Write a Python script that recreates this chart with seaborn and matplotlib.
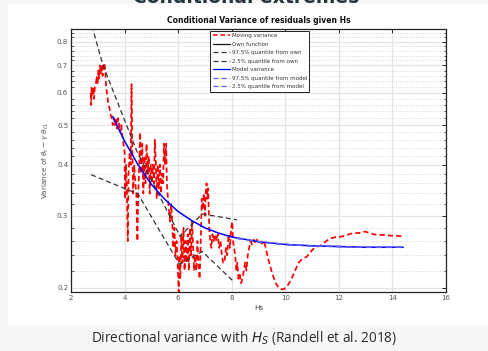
import matplotlib
matplotlib.use("Agg")
import matplotlib.pyplot as plt
import seaborn as sns
import numpy as np
import pandas as pd
from matplotlib.lines import Line2D
from matplotlib.patches import Rectangle
from matplotlib.ticker import FixedLocator, NullFormatter

# ---------------- data ----------------
red_hs = [2.74, 2.75, 2.77, 2.80, 2.83, 2.86, 2.89, 2.93, 2.96, 2.99, 3.02, 3.05, 3.08, 3.11, 3.14,
          3.18, 3.21, 3.25, 3.28, 3.31, 3.34, 3.37, 3.40, 3.44, 3.48, 3.52, 3.56, 3.60, 3.64, 3.68,
          3.72, 3.76, 3.80, 3.84, 3.88, 3.92, 3.96, 4.00, 4.02, 4.05, 4.08, 4.12, 4.15, 4.19, 4.23,
          4.26, 4.29, 4.32, 4.36, 4.40, 4.44, 4.48, 4.51, 4.55, 4.58, 4.62, 4.66, 4.70, 4.74, 4.78,
          4.82, 4.86, 4.90, 4.94, 4.98, 5.02, 5.06, 5.10, 5.13, 5.17, 5.20, 5.24, 5.28, 5.32, 5.36,
          5.40, 5.44, 5.47, 5.51, 5.55, 5.58, 5.62, 5.66, 5.70, 5.74, 5.78, 5.82, 5.86, 5.90, 5.94,
          5.98, 6.02, 6.05, 6.08, 6.12, 6.16, 6.20, 6.24, 6.28, 6.32, 6.36, 6.40, 6.44, 6.48, 6.52,
          6.56, 6.60, 6.64, 6.68, 6.72, 6.76, 6.80, 6.84, 6.88, 6.92, 6.96, 7.00, 7.03, 7.06, 7.09,
          7.12, 7.16, 7.20, 7.24, 7.28, 7.33, 7.38, 7.43, 7.48, 7.53, 7.58, 7.63, 7.68, 7.73, 7.78,
          7.83, 7.88, 7.93, 7.98, 8.02, 8.05, 8.09, 8.13, 8.17, 8.21, 8.25, 8.30, 8.35, 8.40, 8.45,
          8.50, 8.55, 8.60, 8.65, 8.70, 8.76, 8.82, 8.88, 8.94, 9.00, 9.06, 9.12, 9.18, 9.24, 9.30,
          9.36, 9.42, 9.48, 9.55, 9.62, 9.70, 9.78, 9.86, 9.94, 10.02, 10.10, 10.18, 10.26, 10.34,
          10.42, 10.50, 10.60, 10.70, 10.80, 10.90, 11.00, 11.10, 11.20, 11.30, 11.40, 11.50, 11.60,
          11.70, 11.80, 11.90, 12.00, 12.15, 12.30, 12.45, 12.60, 12.75, 12.90, 13.00, 13.15, 13.30,
          13.50, 13.70, 13.90, 14.10, 14.35]
red_var = [0.60, 0.56, 0.62, 0.59, 0.62, 0.58, 0.62, 0.63, 0.66, 0.63, 0.68, 0.65, 0.70, 0.67, 0.70,
           0.66, 0.70, 0.71, 0.68, 0.62, 0.60, 0.58, 0.56, 0.55, 0.53, 0.52, 0.50, 0.52, 0.50, 0.52,
           0.49, 0.52, 0.50, 0.48, 0.50, 0.47, 0.45, 0.43, 0.33, 0.40, 0.36, 0.26, 0.38, 0.43, 0.40,
           0.63, 0.44, 0.34, 0.40, 0.36, 0.34, 0.26, 0.34, 0.40, 0.48, 0.38, 0.45, 0.34, 0.42, 0.36,
           0.45, 0.38, 0.42, 0.34, 0.40, 0.36, 0.40, 0.36, 0.46, 0.40, 0.33, 0.40, 0.35, 0.40, 0.34,
           0.38, 0.36, 0.45, 0.40, 0.45, 0.36, 0.33, 0.31, 0.29, 0.32, 0.29, 0.25, 0.28, 0.24, 0.26,
           0.23, 0.195, 0.24, 0.21, 0.27, 0.23, 0.28, 0.22, 0.26, 0.23, 0.27, 0.22, 0.28, 0.24, 0.29,
           0.25, 0.22, 0.24, 0.22, 0.26, 0.23, 0.21, 0.25, 0.33, 0.31, 0.34, 0.30, 0.34, 0.36, 0.33,
           0.35, 0.28, 0.26, 0.25, 0.27, 0.26, 0.27, 0.26, 0.27, 0.25, 0.26, 0.24, 0.23, 0.23, 0.25,
           0.24, 0.27, 0.25, 0.28, 0.29, 0.26, 0.25, 0.24, 0.22, 0.23, 0.21, 0.215, 0.205, 0.21, 0.22,
           0.23, 0.22, 0.24, 0.25, 0.26, 0.255, 0.262, 0.257, 0.262, 0.258, 0.262, 0.256, 0.26, 0.255, 0.245,
           0.235, 0.228, 0.22, 0.213, 0.207, 0.202, 0.199, 0.198, 0.198, 0.200, 0.203, 0.207, 0.212, 0.218,
           0.224, 0.230, 0.234, 0.236, 0.238, 0.242, 0.247, 0.250, 0.252, 0.253, 0.256, 0.259, 0.262,
           0.264, 0.265, 0.266, 0.266, 0.267, 0.269, 0.271, 0.272, 0.272, 0.274, 0.274, 0.272, 0.270,
           0.269, 0.269, 0.268, 0.268, 0.267]

own_hi_hs = [2.78, 3.19, 4.46, 6.07, 6.90, 8.19]
own_hi_var = [0.876, 0.702, 0.431, 0.267, 0.303, 0.293]
own_lo_hs = [2.75, 4.50, 6.05, 6.90, 8.10]
own_lo_var = [0.378, 0.339, 0.228, 0.245, 0.206]

model_hs = [3.56, 4.0, 4.5, 5.0, 5.5, 6.0, 6.5, 7.0, 7.5, 8.0, 9.0, 10.0, 11.0, 12.0, 13.0, 14.4]
model_var = [0.525, 0.457, 0.400, 0.358, 0.329, 0.307, 0.292, 0.280, 0.272, 0.266, 0.259, 0.255,
             0.253, 0.252, 0.251, 0.251]
model_q_hs = [8.2, 9.0, 10.0, 11.0, 12.0, 13.0, 14.4]
model_q_hi = [0.264, 0.259, 0.255, 0.253, 0.252, 0.251, 0.251]
model_q_lo = [0.264, 0.259, 0.255, 0.253, 0.252, 0.251, 0.251]

y_ticks = [0.2, 0.3, 0.4, 0.5, 0.6, 0.7, 0.8]
x_ticks = [2, 4, 6, 8, 10, 12, 14, 16]

# ---------------- figure ----------------
sns.set_theme(style="white")
plt.rcParams['font.family'] = ['DejaVu Sans']

fig = plt.figure(figsize=(4.88, 3.51), dpi=100, facecolor='#f7f7f7')
fig.patches.append(Rectangle((8/488, 1-325/351), 1-8/488, (325-4)/351, transform=fig.transFigure,
                             facecolor='white', edgecolor='none', zorder=-10))
ax = fig.add_axes([71/488, 1-292/351, 375/488, 263/351])
ax.set_zorder(2)
ax.set_facecolor('white')

df_red = pd.DataFrame({'Hs': red_hs, 'v': red_var})
sns.lineplot(data=df_red, x='Hs', y='v', ax=ax, color='#ff0000', lw=1.25, estimator=None,
             sort=False, zorder=3)
ax.lines[-1].set_dashes([3, 1.8])

sns.lineplot(x=own_hi_hs, y=own_hi_var, ax=ax, color='#333333', lw=0.9, estimator=None, sort=False, zorder=4)
ax.lines[-1].set_dashes([4, 2.5])
sns.lineplot(x=own_lo_hs, y=own_lo_var, ax=ax, color='#333333', lw=0.9, estimator=None, sort=False, zorder=4)
ax.lines[-1].set_dashes([4, 2.5])

sns.lineplot(x=model_hs, y=model_var, ax=ax, color='#0000ff', lw=1.1, estimator=None, sort=False, zorder=5)
sns.lineplot(x=model_q_hs, y=model_q_hi, ax=ax, color='#5a5aff', lw=1.1, estimator=None, sort=False, zorder=6)
ax.lines[-1].set_dashes([4, 2.5])
sns.lineplot(x=model_q_hs, y=model_q_lo, ax=ax, color='#5a5aff', lw=1.1, estimator=None, sort=False, zorder=6)
ax.lines[-1].set_dashes([4, 2.5])

ax.set_yscale('log')
ax.set_xlim(2, 16)
ax.set_ylim(0.195, 0.86)
ax.yaxis.set_major_locator(FixedLocator(y_ticks))
ax.set_yticklabels([f"{t:.1f}" for t in y_ticks])
minor = [round(0.2 + 0.02*i, 2) for i in range(34)]
minor = [m for m in minor if all(abs(m-t) > 1e-6 for t in y_ticks) and m < 0.86]
ax.yaxis.set_minor_locator(FixedLocator(minor))
ax.yaxis.set_minor_formatter(NullFormatter())
ax.set_xticks(x_ticks)
ax.set_xticklabels([str(t) for t in x_ticks])

ax.grid(True, which='major', color='#e4e4e4', lw=0.9, ls='-', zorder=0)
ax.grid(True, which='minor', axis='y', color='#cfcfcf', lw=0.6, ls=':', zorder=0)
ax.set_axisbelow(True)

for s in ax.spines.values():
    s.set_visible(True)
    s.set_color('#222222')
    s.set_linewidth(0.9)
ax.tick_params(which='major', direction='in', length=3, width=0.7, top=True, right=True,
               labelsize=5, colors='#222222', labelcolor='#555555', pad=2)
ax.tick_params(which='minor', direction='in', length=1.8, width=0.5, left=True, right=True, colors='#222222')

ax.set_xlabel('Hs', fontsize=5.2, color='#444444', labelpad=3)
ax.set_ylabel(r'Variance of $\theta_t - \gamma\ \theta_{t1}$', fontsize=5.2, color='#555555', labelpad=4)
ax.set_title('Conditional Variance of residuals given Hs', fontsize=5.5, fontweight='bold',
             color='#111111', pad=4)

handles = [
    Line2D([], [], color='#ff0000', lw=1.1, dashes=[3, 1.8]),
    Line2D([], [], color='#111111', lw=0.9),
    Line2D([], [], color='#333333', lw=0.9, dashes=[4, 2.5]),
    Line2D([], [], color='#333333', lw=0.9, dashes=[4, 2.5]),
    Line2D([], [], color='#0000ff', lw=0.9),
    Line2D([], [], color='#5a5aff', lw=0.9, dashes=[4, 2.5]),
    Line2D([], [], color='#5a5aff', lw=0.9, dashes=[4, 2.5]),
]
labels = ['Moving variance', 'Own function', '97.5% quantile from own', '2.5% quantile from own',
          'Model variance', '97.5% quantile from model', '2.5% quantile from model']
leg = ax.legend(handles, labels, loc='upper left', bbox_to_anchor=(0.371, 0.993), fontsize=4.0,
                frameon=True, fancybox=False, edgecolor='#222222', framealpha=1,
                handlelength=3.2, handletextpad=0.2, labelspacing=0.62, borderpad=0.45,
                borderaxespad=0)
leg.get_frame().set_linewidth(0.7)
for t in leg.get_texts():
    t.set_color('#333333')

# slide title (cut off at top) and caption
fig.text(0.505, 1.0 - 3.0/351, 'Conditional extremes', ha='center', va='baseline', fontsize=13.5,
         fontweight='bold', color='#23373b')
fig.text(0.5, 1 - 338/351, r'Directional variance with $H_S$ (Randell et al. 2018)', ha='center',
         va='center', fontsize=9.8, color='#2b2b2b', family=['Open Sans', 'DejaVu Sans'])

fig.savefig('out.png', dpi=100, facecolor=fig.get_facecolor())
